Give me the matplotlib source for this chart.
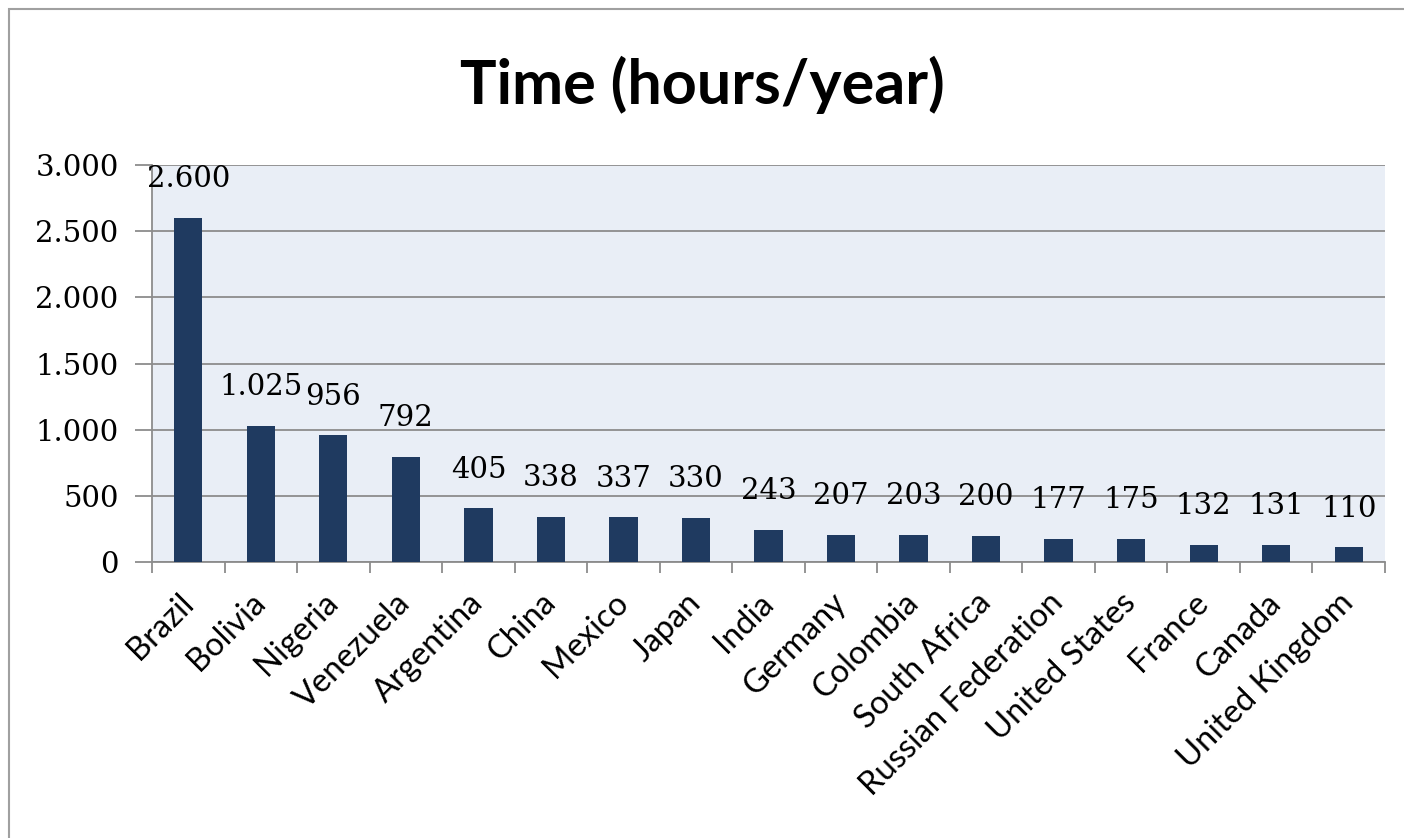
import numpy as np
import matplotlib.pyplot as plt
from matplotlib.ticker import FuncFormatter, FixedLocator

# DATA
countries = ["Brazil", "Bolivia", "Nigeria", "Venezuela", "Argentina", "China",
             "Mexico", "Japan", "India", "Germany", "Colombia", "South Africa",
             "Russian Federation", "United States", "France", "Canada", "United Kingdom"]
hours = [2600, 1025, 956, 792, 405, 338, 337, 330, 243, 207, 203, 200, 177, 175, 132, 131, 110]
y_ticks = [0, 500, 1000, 1500, 2000, 2500, 3000]

bar_color = "#1f3a60"
grid_color = "#8c8c8c"
serif = ["DejaVu Serif"]
sans = ["Lato", "DejaVu Sans"]


def dot_thousands(v, pos=None):
    return f"{int(v):,}".replace(",", ".")


fig = plt.figure(figsize=(14.04, 8.38), dpi=100)
# outer chart border
fig.patches.append(plt.Rectangle((9 / 1404, -0.05), 1.2, 1 - 9 / 838 + 0.05,
                                 transform=fig.transFigure, fill=False,
                                 edgecolor="#a0a0a0", linewidth=1.5))

ax = fig.add_axes([152 / 1404, 1 - 562 / 838, 1233 / 1404, 397 / 838])
ax.set_facecolor("#e9eef6")

x = np.arange(len(countries))
ax.bar(x, hours, width=0.39, color=bar_color, zorder=3)

ax.set_xlim(-0.5, len(countries) - 0.5)
ax.set_ylim(0, 3000)
ax.yaxis.set_major_locator(FixedLocator(y_ticks))
ax.yaxis.set_major_formatter(FuncFormatter(dot_thousands))
ax.grid(axis="y", color=grid_color, linewidth=1.3, zorder=1)

for s in ["top", "right"]:
    ax.spines[s].set_visible(False)
ax.spines["left"].set_color(grid_color)
ax.spines["bottom"].set_color(grid_color)
ax.spines["left"].set_linewidth(1.3)
ax.spines["bottom"].set_linewidth(1.3)

ax.tick_params(axis="y", length=12, width=1.3, color=grid_color, pad=12)
for lab in ax.get_yticklabels():
    lab.set_fontfamily(serif)
    lab.set_fontsize(21)

# x ticks at category boundaries, labels at centers
ax.set_xticks(np.arange(len(countries) + 1) - 0.5)
ax.set_xticklabels([])
ax.tick_params(axis="x", length=8, width=1.3, color=grid_color)
ax.set_xticks(x, minor=True)
ax.set_xticklabels(countries, minor=True, rotation=45, ha="right", va="center",
                   rotation_mode="anchor", fontsize=23.5, family=sans)
ax.tick_params(axis="x", which="minor", length=0, pad=26)

for xi, v in zip(x, hours):
    ax.annotate(dot_thousands(v), (xi, v), xytext=(0, 28), textcoords="offset points",
                ha="center", va="center", fontsize=21, family=serif, zorder=4)

fig.text(0.5, 1 - 85 / 838, "Time (hours/year)", ha="center", va="center",
         fontsize=44, fontweight="bold", family=["Lato", "DejaVu Sans"])

fig.savefig("out.png", dpi=100)
